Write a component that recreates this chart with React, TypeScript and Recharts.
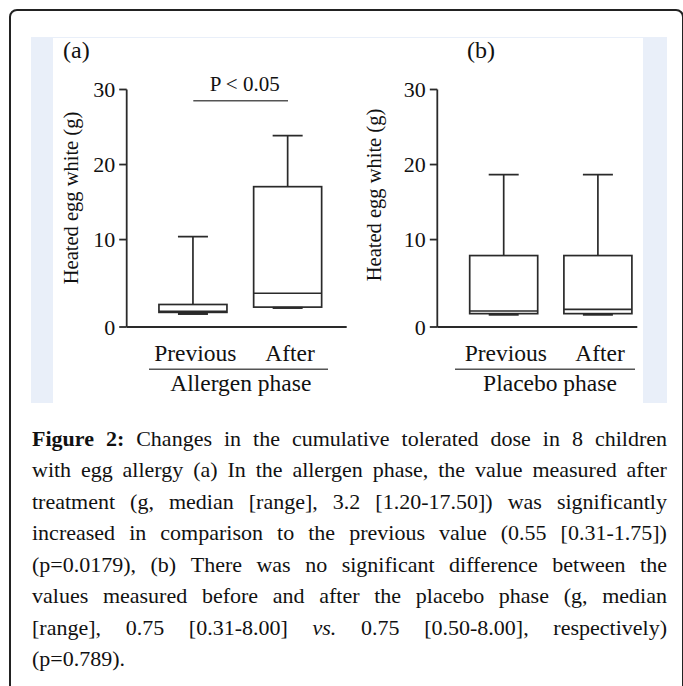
import React from 'react';
import { ComposedChart, Bar, XAxis, YAxis, ReferenceLine, Label } from 'recharts';

// ---- data ----
const categories = ['Previous', 'After'];

const allergenMin = [0.1, 0.9];
const allergenQ1 = [0.3, 1.0];
const allergenMedian = [0.45, 2.85];
const allergenQ3 = [1.35, 17.05];
const allergenMax = [10.4, 23.85];

const placeboMin = [0.0, 0.0];
const placeboQ1 = [0.13, 0.13];
const placeboMedian = [0.48, 0.71];
const placeboQ3 = [7.87, 7.87];
const placeboMax = [18.65, 18.65];

const Y_AXIS_FLOOR = -1.65; // the axis is offset below zero in the original figure
const yTicks = [Y_AXIS_FLOOR, 10, 20, 30];
const yTickLabels = ['0', '10', '20', '30'];

const significanceLevel = 28.5;
const significanceText = 'P < 0.05';

const yAxisTitle = 'Heated egg white (g)';
const panelTitles = ['(a)', '(b)'];
const groupTitles = ['Allergen phase', 'Placebo phase'];

const captionLines: string[][] = [
  ['**Figure', '2:**', 'Changes', 'in', 'the', 'cumulative', 'tolerated', 'dose', 'in', '8', 'children'],
  ['with', 'egg', 'allergy', '(a)', 'In', 'the', 'allergen', 'phase,', 'the', 'value', 'measured', 'after'],
  ['treatment', '(g,', 'median', '[range],', '3.2', '[1.20-17.50])', 'was', 'significantly'],
  ['increased', 'in', 'comparison', 'to', 'the', 'previous', 'value', '(0.55', '[0.31-1.75])'],
  ['(p=0.0179),', '(b)', 'There', 'was', 'no', 'significant', 'difference', 'between', 'the'],
  ['values', 'measured', 'before', 'and', 'after', 'the', 'placebo', 'phase', '(g,', 'median'],
  ['[range],', '0.75', '[0.31-8.00]', '_vs._', '0.75', '[0.50-8.00],', 'respectively)'],
  ['(p=0.789).'],
];

const build = (mn: number[], a: number[], m: number[], b: number[], mx: number[]) =>
  categories.map((name, i) => ({ name, min: mn[i], q1: a[i], median: m[i], q3: b[i], max: mx[i] }));

const allergenData = build(allergenMin, allergenQ1, allergenMedian, allergenQ3, allergenMax);
const placeboData = build(placeboMin, placeboQ1, placeboMedian, placeboQ3, placeboMax);

const FONT = '"Liberation Serif", "Times New Roman", serif';
const INK = '#2a2a2a';

function BoxShape(props: any) {
  const { x, y, width, height, payload } = props;
  if (!payload) return null;
  const { min, q1, median, q3, max } = payload;
  const h = Math.abs(height);
  const top = Math.min(y, y + height);
  const ppu = h / (max - min);
  const yOf = (v: number) => top + (max - v) * ppu;
  const cx = x + width / 2;
  const capHalf = 15;
  return (
    <g stroke={INK} strokeWidth={1.7} fill="none">
      <line x1={cx} x2={cx} y1={yOf(max)} y2={yOf(q3)} />
      <line x1={cx - capHalf} x2={cx + capHalf} y1={yOf(max)} y2={yOf(max)} />
      <rect x={x} y={yOf(q3)} width={width} height={yOf(q1) - yOf(q3)} fill="#ffffff" />
      <line x1={x} x2={x + width} y1={yOf(median)} y2={yOf(median)} />
      <line x1={cx} x2={cx} y1={yOf(q1)} y2={yOf(min)} />
      <line x1={cx - capHalf} x2={cx + capHalf} y1={yOf(min)} y2={yOf(min)} strokeWidth={2.2} />
    </g>
  );
}

type PanelProps = {
  data: any[];
  left: number;
  width: number;
  marginLeft: number;
  marginRight: number;
  padLeft: number;
  padRight: number;
  group: string;
  lineFrom: number;
  lineTo: number;
  groupCenter: number;
  yTitleX: number;
  yTitleY: number;
  showSig: boolean;
};

function CategoryTick(props: any) {
  const { x, y, payload } = props;
  return (
    <text x={x + 2} y={y} dy="0.71em" textAnchor="middle" fontSize={23.5} fontFamily={FONT} fill="#111">
      {payload.value}
    </text>
  );
}

function Panel(p: PanelProps) {
  return (
    <div style={{ position: 'absolute', left: p.left, top: 38 }}>
      <ComposedChart
        width={p.width}
        height={364}
        data={p.data}
        margin={{ top: 51.5, right: p.marginRight, bottom: 45, left: p.marginLeft }}
      >
        <XAxis
          dataKey="name"
          type="category"
          height={30}
          tickLine={false}
          tickSize={8}
          tickMargin={9.5}
          axisLine={{ stroke: INK, strokeWidth: 1.8 }}
          tick={<CategoryTick />}
          padding={{ left: p.padLeft, right: p.padRight }}
          interval={0}
        >
          <Label
            content={(lp: any) => {
              const vb = lp.viewBox || { x: 0, y: 0 };
              return (
                <g>
                  <line
                    x1={vb.x + p.lineFrom}
                    x2={vb.x + p.lineTo}
                    y1={vb.y + 42.3}
                    y2={vb.y + 42.3}
                    stroke="#555"
                    strokeWidth={1.6}
                  />
                  <text
                    x={vb.x + p.groupCenter}
                    y={vb.y + 63.5}
                    textAnchor="middle"
                    fontSize={23.5}
                    fontFamily={FONT}
                    fill="#111"
                  >
                    {p.group}
                  </text>
                </g>
              );
            }}
          />
        </XAxis>
        <YAxis
          type="number"
          width={60}
          domain={[Y_AXIS_FLOOR, 30]}
          ticks={yTicks}
          interval={0}
          tickFormatter={(v: number) => yTickLabels[yTicks.indexOf(v)] ?? String(v)}
          tickSize={7.5}
          tickMargin={4}
          axisLine={{ stroke: INK, strokeWidth: 1.8 }}
          tickLine={{ stroke: INK, strokeWidth: 1.8 }}
          tick={{ fontSize: 22, fill: '#111', fontFamily: FONT }}
          allowDataOverflow
        >
          <Label
            content={() => (
              <text
                x={p.yTitleX}
                y={p.yTitleY}
                transform={`rotate(-90, ${p.yTitleX}, ${p.yTitleY})`}
                textAnchor="middle"
                fontSize={20.5}
                fontFamily={FONT}
                fill="#111"
              >
                {yAxisTitle}
              </text>
            )}
          />
        </YAxis>
        <Bar
          dataKey={(d: any) => [d.min, d.max]}
          barSize={68}
          shape={BoxShape}
          isAnimationActive={false}
        />
        {p.showSig && (
          <ReferenceLine
            segment={[
              { x: categories[0], y: significanceLevel },
              { x: categories[1], y: significanceLevel },
            ]}
            stroke="#555"
            strokeWidth={1.6}
            ifOverflow="visible"
            label={{
              value: significanceText,
              position: 'top',
              offset: 10,
              fontSize: 21,
              fontFamily: FONT,
              fill: '#111',
              dx: 4,
            }}
          />
        )}
      </ComposedChart>
    </div>
  );
}

function CaptionLine({ words, last }: { words: string[]; last: boolean }) {
  return (
    <div
      style={{
        display: 'flex',
        justifyContent: last ? 'flex-start' : 'space-between',
        whiteSpace: 'nowrap',
        height: 31.5,
        lineHeight: '31.5px',
      }}
    >
      {words.map((w, i) => {
        let style: React.CSSProperties = {};
        let t = w;
        if (w.startsWith('**')) t = w.slice(2);
        if (t.endsWith('**')) t = t.slice(0, -2);
        if (w.startsWith('**') || w.endsWith('**')) style.fontWeight = 'bold';
        if (w.startsWith('_') && w.endsWith('_')) {
          t = w.slice(1, -1);
          style.fontStyle = 'italic';
        }
        return (
          <span key={i} style={style}>
            {t}
          </span>
        );
      })}
    </div>
  );
}

export default function App() {
  return (
    <div
      style={{
        position: 'absolute',
        left: 0,
        top: 0,
        width: 683,
        height: 686,
        overflow: 'hidden',
        background: '#ffffff',
        fontFamily: FONT,
      }}
    >
      {/* outer frame */}
      <div
        style={{
          position: 'absolute',
          left: 9,
          top: 9,
          width: 675,
          height: 720,
          border: '2px solid #222',
          borderRadius: 8,
          boxSizing: 'border-box',
        }}
      />
      {/* figure background */}
      <div style={{ position: 'absolute', left: 31, top: 37, width: 636, height: 366, background: '#e9eff9' }} />
      <div style={{ position: 'absolute', left: 53, top: 38, width: 590, height: 365, background: '#ffffff' }} />

      <Panel
        data={allergenData}
        left={53}
        width={300}
        marginLeft={13.7}
        marginRight={6.3}
        padLeft={19.25}
        padRight={11.35}
        group={groupTitles[0]}
        lineFrom={22.3}
        lineTo={201.3}
        groupCenter={114.1}
        yTitleX={25}
        yTitleY={160}
        showSig
      />
      <Panel
        data={placeboData}
        left={353}
        width={290}
        marginLeft={24.3}
        marginRight={5.7}
        padLeft={19.4}
        padRight={-7.8}
        group={groupTitles[1]}
        lineFrom={17.7}
        lineTo={197.7}
        groupCenter={112.7}
        yTitleX={28}
        yTitleY={157}
        showSig={false}
      />

      <div style={{ position: 'absolute', left: 63, top: 38, fontSize: 24, lineHeight: '24px', color: '#111' }}>
        {panelTitles[0]}
      </div>
      <div style={{ position: 'absolute', left: 467, top: 38, fontSize: 24, lineHeight: '24px', color: '#111' }}>
        {panelTitles[1]}
      </div>

      <div
        style={{
          position: 'absolute',
          left: 32,
          top: 422.8,
          width: 635,
          fontSize: 22,
          color: '#111',
        }}
      >
        {captionLines.map((words, i) => (
          <CaptionLine key={i} words={words} last={i === captionLines.length - 1} />
        ))}
      </div>
    </div>
  );
}
